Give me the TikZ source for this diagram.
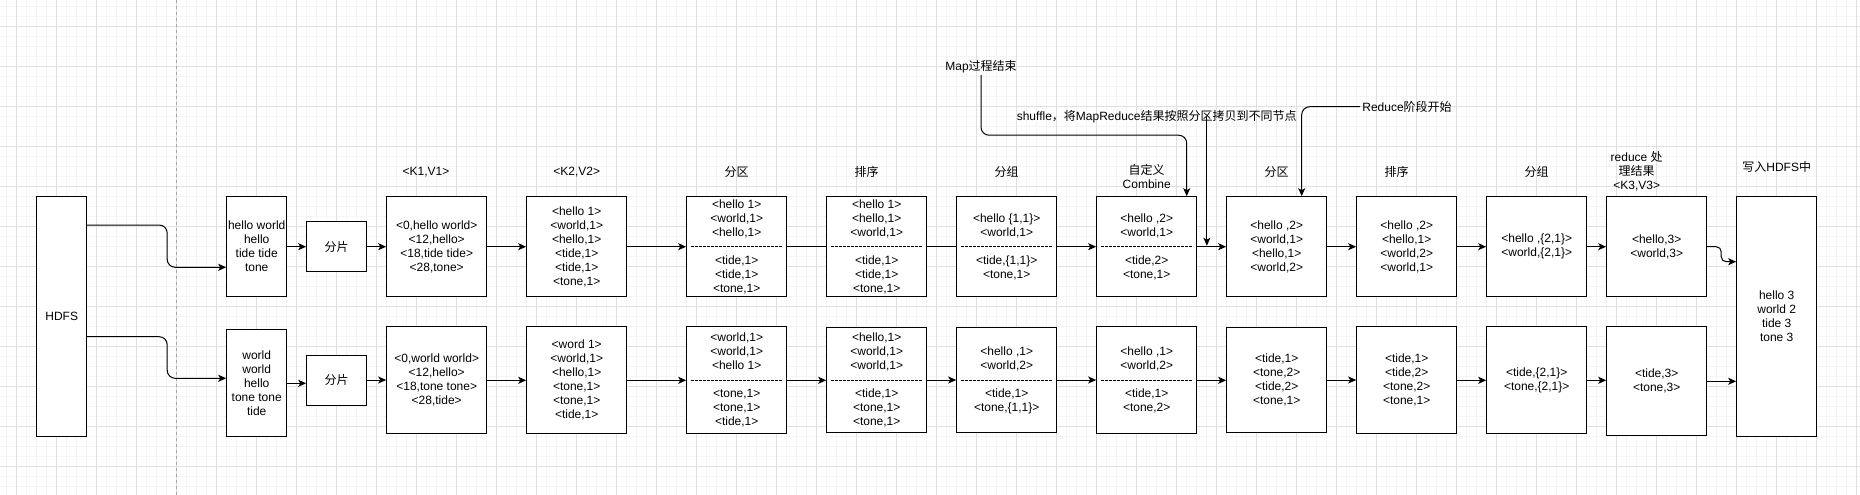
\documentclass[tikz,border=0pt]{standalone}
\usepackage{fontspec}
\setmainfont{Liberation Sans}
\newfontfamily\cjk{Noto Sans CJK SC}
\usetikzlibrary{arrows.meta,calc}
\newcommand{\myfs}{\fontsize{12}{14}\selectfont}
\begin{document}
\begin{tikzpicture}[x=1pt,y=-1pt,
  box/.style={draw, line width=1pt, fill=white, inner sep=0pt, align=center, font=\myfs},
  lbl/.style={inner sep=2pt, align=center, font=\myfs},
  arr/.style={line width=1pt, -{Stealth[length=8pt,width=7pt,inset=2pt]}},
  ln/.style={line width=1pt},
  sepl/.style={line width=0.8pt, dash pattern=on 3pt off 1pt},
  minorg/.style={line width=1pt, black!4},
  majorg/.style={line width=1pt, black!12},
]
\useasboundingbox (0,0) rectangle (1860,495);
\fill[white] (0,0) rectangle (1860,495);
\begin{scope}
\clip (0,0) rectangle (1860,495);
\foreach \i in {0,...,185} \draw[minorg] (6.7+10*\i,0) -- (6.7+10*\i,495);
\foreach \i in {0,...,49} \draw[minorg] (0,6.7+10*\i) -- (1860,6.7+10*\i);
\foreach \i in {0,...,46} \draw[majorg] (16.7+40*\i,0) -- (16.7+40*\i,495);
\foreach \i in {0,...,12} \draw[majorg] (0,26.7+40*\i) -- (1860,26.7+40*\i);
\draw[black!35, line width=1pt, dash pattern=on 3pt off 3pt] (176.7,0) -- (176.7,495);
\end{scope}

% ---------- boxes ----------
\node[box, minimum width=50, minimum height=240] (hdfs) at (61.7,316.7) {HDFS};
\node[box, minimum width=60, minimum height=100] (in1) at (256.7,246.7) {hello world\\hello\\tide tide\\tone};
\node[box, minimum width=60, minimum height=106.7] (in2) at (256.7,383.3) {world\\world\\hello\\tone tone\\tide};
\node[box, minimum width=60, minimum height=50] (fp1) at (336.7,246.7) {\cjk 分片};
\node[box, minimum width=60, minimum height=50] (fp2) at (336.7,380) {\cjk 分片};
\node[box, minimum width=100, minimum height=100] (k1a) at (436.7,246.7) {<0,hello world>\\<12,hello>\\<18,tide tide>\\<28,tone>};
\node[box, minimum width=100, minimum height=107.3] (k1b) at (436.7,380.3) {<0,world world>\\<12,hello>\\<18,tone tone>\\<28,tide>};
\node[box, minimum width=100, minimum height=100] (k2a) at (576.7,246.7) {<hello 1>\\<world,1>\\<hello,1>\\<tide,1>\\<tide,1>\\<tone,1>};
\node[box, minimum width=100, minimum height=107.3] (k2b) at (576.7,380.3) {<word 1>\\<world,1>\\<hello,1>\\<tone,1>\\<tone,1>\\<tide,1>};
\node[box, minimum width=100, minimum height=100] (pa) at (736.7,246.7) {<hello 1>\\<world,1>\\<hello,1>\\\mbox{}\\<tide,1>\\<tide,1>\\<tone,1>};
\node[box, minimum width=100, minimum height=107.3] (pb) at (736.7,380.3) {<world,1>\\<world,1>\\<hello 1>\\\mbox{}\\<tone,1>\\<tone,1>\\<tide,1>};
\node[box, minimum width=100, minimum height=100] (sa) at (876.7,246.7) {<hello 1>\\<hello,1>\\<world,1>\\\mbox{}\\<tide,1>\\<tide,1>\\<tone,1>};
\node[box, minimum width=100, minimum height=105.3] (sb) at (876.7,380) {<hello,1>\\<world,1>\\<world,1>\\\mbox{}\\<tide,1>\\<tone,1>\\<tone,1>};
\node[box, minimum width=100, minimum height=100] (ga) at (1006.7,246.7) {<hello \{1,1\}>\\<world,1>\\\mbox{}\\<tide,\{1,1\}>\\<tone,1>};
\node[box, minimum width=100, minimum height=105.3] (gb) at (1006.7,380) {<hello ,1>\\<world,2>\\\mbox{}\\<tide,1>\\<tone,\{1,1\}>};
\node[box, minimum width=100, minimum height=100] (ca) at (1146.7,246.7) {<hello ,2>\\<world,1>\\\mbox{}\\<tide,2>\\<tone,1>};
\node[box, minimum width=100, minimum height=107.3] (cb) at (1146.7,380.3) {<hello ,1>\\<world,2>\\\mbox{}\\<tide,1>\\<tone,2>};
\node[box, minimum width=100, minimum height=100] (ra) at (1276.7,246.7) {<hello ,2>\\<world,1>\\<hello,1>\\<world,2>};
\node[box, minimum width=100, minimum height=105.3] (rb) at (1276.7,380) {<tide,1>\\<tone,2>\\<tide,2>\\<tone,1>};
\node[box, minimum width=100, minimum height=100] (rsa) at (1406.7,246.7) {<hello ,2>\\<hello,1>\\<world,2>\\<world,1>};
\node[box, minimum width=100, minimum height=107.3] (rsb) at (1406.7,380.3) {<tide,1>\\<tide,2>\\<tone,2>\\<tone,1>};
\node[box, minimum width=100, minimum height=100] (rga) at (1536.7,246.7) {<hello ,\{2,1\}>\\<world,\{2,1\}>};
\node[box, minimum width=100, minimum height=107.3] (rgb) at (1536.7,380.3) {<tide,\{2,1\}>\\<tone,\{2,1\}>};
\node[box, minimum width=100, minimum height=100] (resa) at (1656.7,246.7) {<hello,3>\\<world,3>};
\node[box, minimum width=100, minimum height=109.3] (resb) at (1656.7,381.3) {<tide,3>\\<tone,3>};
\node[box, minimum width=80, minimum height=240] (hout) at (1776.7,316.7) {hello 3\\world 2\\tide 3\\tone 3};

% dashed separators
\foreach \b in {pa,pb,sa,sb,ga,gb,ca,cb}
  \draw[sepl] ([xshift=4.5pt]\b.west) -- ([xshift=-4.5pt]\b.east);

% ---------- labels ----------
\node[lbl] (l1) at (426,172) {<K1,V1>};
\node[lbl] (l2) at (576.7,172) {<K2,V2>};
\node[lbl] (l3) at (736.7,172) {\cjk 分区};
\node[lbl] (l4) at (866.7,172) {\cjk 排序};
\node[lbl] (l5) at (1006.7,172) {\cjk 分组};
\node[lbl] (l6) at (1146.7,176.3) {{\cjk 自定义}\\Combine};
\node[lbl] (l7) at (1276.7,172) {\cjk 分区};
\node[lbl] (l8) at (1396.7,172) {\cjk 排序};
\node[lbl] (l9) at (1536.7,172) {\cjk 分组};
\node[lbl] (l10) at (1636.7,171.7) {reduce {\cjk 处}\\{\cjk 理结果}\\<K3,V3>};
\node[lbl] (l11) at (1776.7,166.7) {{\cjk 写入}HDFS{\cjk 中}};
\node[lbl] (mapl) at (981,66.7) {Map{\cjk 过程结束}};
\node[lbl, inner sep=0pt] (shufl) at (1156.7,116.7) {shuffle{\cjk ，将}MapReduce{\cjk 结果按照分区拷贝到不同节点}};
\node[lbl] (redl) at (1407,106.7) {Reduce{\cjk 阶段开始}};

% ---------- connectors ----------
\draw[arr, rounded corners=8pt] ([yshift=91.7pt]hdfs.east) -- ++(80,0) |- ([yshift=-20.6pt]in1.west);
\draw[arr, rounded corners=8pt] ([yshift=-20pt]hdfs.east) -- ++(80,0) |- ([yshift=5pt]in2.west);
\draw[arr] (in1.east) -- (fp1.west);
\draw[arr] (in2.east) -- (in2.east -| fp2.west);
\draw[arr] (fp1.east) -- (k1a.west);
\draw[arr] (fp2.east) -- (fp2.east -| k1b.west);
\draw[arr] (k1a.east) -- (k2a.west);
\draw[arr] (k1b.east) -- (k1b.east -| k2b.west);
\draw[arr] (k2a.east) -- (pa.west);
\draw[arr] (k2b.east) -- (k2b.east -| pb.west);
\draw[ln] (pa.east) -- (sa.west);
\draw[arr] (pb.east) -- (pb.east -| sb.west);
\draw[ln] (sa.east) -- (ga.west);
\draw[arr] (sb.east) -- (sb.east -| gb.west);
\draw[arr] (ga.east) -- (ca.west);
\draw[arr] (gb.east) -- (gb.east -| cb.west);
\draw[arr] (ca.east) -- (ra.west);
\draw[arr] (cb.east) -- (cb.east -| rb.west);
\draw[arr] (ra.east) -- (rsa.west);
\draw[arr] (rb.east) -- (rb.east -| rsb.west);
\draw[arr] (rsa.east) -- (rga.west);
\draw[arr] (rsb.east) -- (rsb.east -| rgb.west);
\draw[arr] (rga.east) -- (resa.west);
\draw[arr] (rgb.east) -- (rgb.east -| resb.west);
\draw[arr, rounded corners=5pt] (resa.east) -- ++(14,0) |- ([yshift=55pt]hout.west);
\draw[arr] (resb.east) -- (resb.east -| hout.west);

\draw[arr, rounded corners=8pt] (mapl.south) |- ([xshift=40pt, yshift=61pt]ca.north) -- ([xshift=40pt]ca.north);
\coordinate (shufend) at ($(ca.east)!0.3333!(ra.west)$);
\draw[arr] (shufend |- shufl.center) -- ([yshift=1pt]shufend);
\draw[arr, rounded corners=8pt] (redl.west) -| ([xshift=25pt]ra.north);
\end{tikzpicture}
\end{document}
